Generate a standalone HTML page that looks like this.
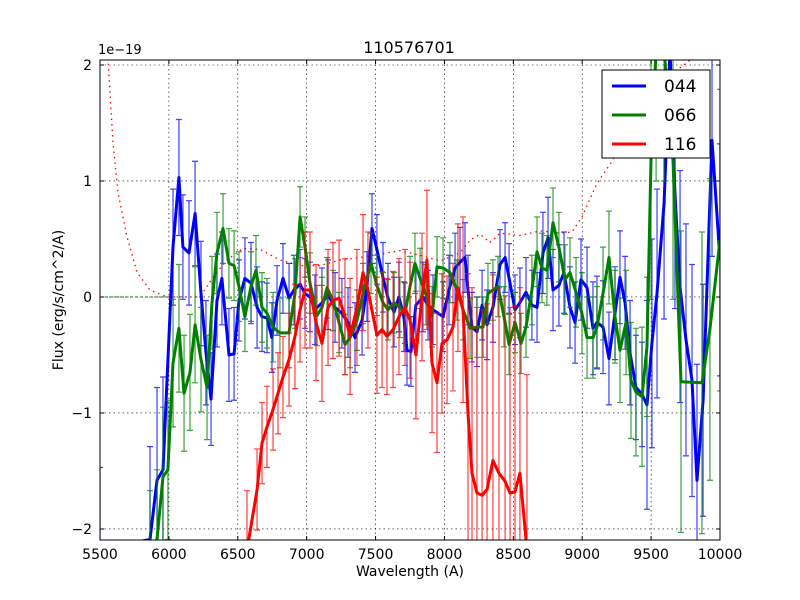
<!DOCTYPE html>
<html><head><meta charset="utf-8"><style>
html,body{margin:0;padding:0;width:800px;height:600px;overflow:hidden;background:#fff}
svg{display:block;font-family:"DejaVu Sans","Liberation Sans",sans-serif}
</style></head><body>
<svg id="chart" width="800" height="600" viewBox="0 0 800 600">
<rect x="0" y="0" width="800" height="600" fill="#fff"/>
<defs><clipPath id="clip"><rect x="100" y="60" width="620" height="480"/></clipPath></defs>
<g id="grid"></g>
<g id="plot" clip-path="url(#clip)"></g>
<rect x="100" y="60" width="620" height="480" fill="none" stroke="#000" stroke-width="1"/>
<g id="ticks"></g>
<text x="409" y="53" font-size="16" text-anchor="middle">110576701</text>
<text x="98" y="54" font-size="13">1e−19</text>
<text x="410" y="576" font-size="14" text-anchor="middle">Wavelength (A)</text>
<text x="63" y="300" font-size="14" text-anchor="middle" transform="rotate(-90 63 300)">Flux (erg/s/cm^2/A)</text>
<g>
<rect x="602" y="70" width="108" height="88" fill="#fff" stroke="#000"/>
<line x1="612" y1="86" x2="646" y2="86" stroke="#0000ff" stroke-width="3"/>
<text x="664" y="92" font-size="17">044</text>
<line x1="612" y1="115" x2="646" y2="115" stroke="#008000" stroke-width="3"/>
<text x="664" y="121" font-size="17">066</text>
<line x1="612" y1="144" x2="646" y2="144" stroke="#ff0000" stroke-width="3"/>
<text x="664" y="150" font-size="17">116</text>
</g>
</svg>
<script>
const xTicks=[5500,6000,6500,7000,7500,8000,8500,9000,9500,10000];
const yTicks=[-2,-1,0,1,2];
const yTickLabels=["−2","−1","0","1","2"];

const wlA=[5500,5863,5914,5957,6030,6073,6102,6146,6190,6233,6269,6306,6349,6385,6436,6473,6509,6552,6596,6640,6676,6712,6748,6785,6828,6872,6908,6952,6988,7024,7060,7111,7155,7206,7256,7300,7351,7402,7438,7474,7510,7554,7590,7634,7670,7706,7728,7757,7793,7844,7881,7917,7990,8033,8077,8113,8149,8171,8200,8236,8273,8309,8352,8403,8440,8469,8512,8548,8592,8635,8672,8715,8752,8788,8831,8868,8911,8948,8991,9035,9078,9107,9151,9194,9238,9274,9311,9347,9390,9434,9470,9506,9543,9594,9637,9673,9710,9753,9797,9833,9877,9942,10000];
const fluxA=[-2.27,-2.09,-1.58,-1.49,0.43,1.03,0.43,0.38,0.72,0.03,-0.48,-0.88,-0.03,0.16,-0.5,-0.49,-0.03,0.16,0.12,-0.09,-0.17,-0.18,-0.35,-0.03,0.16,-0.01,0.06,0.11,0.03,0,-0.11,-0.05,0.02,-0.09,-0.14,-0.22,-0.35,-0.2,0.09,0.59,0.41,0.17,-0.01,-0.13,0,-0.17,-0.46,-0.47,-0.07,0,-0.07,-0.11,-0.17,0.06,0.25,0.3,0.34,0.06,-0.26,-0.3,-0.07,-0.24,-0.09,0.28,0.34,0.16,-0.11,-0.05,0.04,-0.07,-0.09,0.38,0.51,0.06,0.1,0.21,-0.09,-0.22,0.15,0.08,-0.27,-0.22,-0.26,-0.53,-0.14,0.17,-0.05,-0.48,-0.78,-0.84,-0.93,-0.4,0.03,0.81,2.2,0.9,0.09,-0.37,-0.72,-1.58,-0.89,1.35,0.32];
const errA=[0.8,0.8,0.8,0.8,0.5,0.5,0.45,0.45,0.45,0.45,0.45,0.4,0.4,0.4,0.4,0.4,0.35,0.35,0.35,0.35,0.3,0.3,0.3,0.3,0.3,0.3,0.3,0.3,0.3,0.3,0.3,0.3,0.3,0.3,0.3,0.3,0.3,0.3,0.3,0.3,0.3,0.3,0.3,0.3,0.3,0.3,0.3,0.3,0.3,0.3,0.3,0.3,0.3,0.3,0.3,0.3,0.3,0.3,0.3,0.3,0.3,0.3,0.3,0.3,0.3,0.3,0.3,0.3,0.3,0.3,0.3,0.35,0.35,0.35,0.35,0.35,0.35,0.35,0.35,0.35,0.4,0.4,0.4,0.4,0.4,0.4,0.4,0.45,0.45,0.45,0.9,0.9,0.9,1.0,1.0,1.0,1.0,1.0,1.0,1.0,1.0,1.0,1.0];

const wlB=[5863,5914,5957,5993,6030,6073,6110,6153,6190,6233,6277,6313,6349,6393,6436,6473,6509,6552,6596,6632,6676,6712,6756,6806,6872,6915,6952,6988,7024,7075,7111,7148,7191,7235,7278,7315,7365,7409,7467,7510,7554,7590,7634,7677,7714,7750,7786,7823,7866,7910,7946,7990,8040,8091,8135,8186,8236,8280,8316,8352,8389,8432,8469,8512,8556,8592,8635,8672,8708,8744,8788,8831,8875,8911,8955,8998,9035,9078,9107,9151,9194,9238,9274,9318,9354,9390,9434,9470,9499,9536,9594,9659,9717,9869,9927,10000];
const fluxB=[-2.27,-2.09,-1.55,-1.49,-0.57,-0.27,-0.83,-0.65,-0.24,-0.54,-0.78,-0.05,0.38,0.59,0.29,0.27,0.09,-0.17,0.09,0.23,-0.09,-0.14,-0.26,-0.31,-0.31,0.03,0.69,0.43,0.12,-0.16,-0.09,0.08,-0.03,-0.22,-0.41,-0.35,-0.2,0.03,0.29,0.1,-0.05,-0.11,-0.05,-0.09,-0.14,0.09,0.29,0.16,0.02,-0.17,0.26,0.25,0.21,0.06,-0.11,-0.27,-0.26,-0.26,0.03,0.06,0.09,-0.17,-0.41,-0.22,-0.4,-0.26,0.06,0.39,0.25,0.23,0.64,0.43,0.15,0.21,0.04,-0.14,-0.35,-0.35,-0.26,0.03,0.34,-0.17,-0.46,-0.22,-0.72,-0.82,-0.86,-0.43,1.18,2.2,2.2,1.18,-0.73,-0.74,-0.28,0.49];
const errB=[0.6,0.6,0.6,0.6,0.55,0.55,0.5,0.5,0.5,0.45,0.45,0.4,0.35,0.3,0.3,0.3,0.3,0.3,0.3,0.3,0.3,0.3,0.3,0.3,0.3,0.3,0.26,0.26,0.26,0.26,0.26,0.26,0.26,0.26,0.26,0.26,0.26,0.26,0.26,0.26,0.26,0.26,0.26,0.26,0.26,0.26,0.26,0.26,0.26,0.26,0.26,0.26,0.26,0.26,0.26,0.26,0.26,0.26,0.26,0.26,0.26,0.26,0.26,0.26,0.26,0.26,0.3,0.3,0.3,0.3,0.3,0.3,0.3,0.3,0.3,0.35,0.35,0.35,0.35,0.4,0.4,0.4,0.45,0.45,0.5,0.55,0.6,0.6,1.2,1.2,1.2,1.2,1.3,1.3,1.3,1.3];

const wlC=[6567,6640,6676,6712,6756,6792,6828,6872,6915,6952,6988,7024,7068,7111,7155,7191,7235,7278,7315,7365,7409,7445,7510,7547,7583,7627,7670,7714,7750,7793,7837,7873,7910,7946,7982,8019,8062,8098,8135,8171,8200,8236,8273,8309,8352,8396,8440,8476,8512,8548,8599];
const fluxC=[-2.27,-1.66,-1.26,-1.12,-0.97,-0.83,-0.69,-0.54,-0.34,-0.11,0.06,0.06,-0.22,-0.4,-0.09,-0.03,-0.01,-0.17,-0.34,-0.09,0.21,0.06,-0.33,-0.28,-0.34,-0.28,-0.17,-0.09,-0.2,-0.5,0,0.32,-0.57,-0.74,-0.4,-0.37,-0.26,0.08,-0.11,-1.0,-1.52,-1.69,-1.71,-1.66,-1.41,-1.52,-1.59,-1.69,-1.68,-1.52,-2.27];
const errC=[0.6,0.35,0.35,0.35,0.35,0.35,0.35,0.4,0.45,0.45,0.5,0.5,0.5,0.5,0.5,0.5,0.5,0.5,0.5,0.5,0.5,0.5,0.5,0.5,0.5,0.5,0.5,0.5,0.5,0.55,0.55,0.6,0.6,0.6,0.6,0.55,0.55,0.55,0.8,1.2,1.6,1.6,1.6,1.6,1.6,1.6,1.6,1.6,1.6,1.6,1.6];

const wlSky=[5544,5558,5594,5631,5696,5769,5863,5986,6226,6320,6422,6538,6661,6806,6952,7097,7242,7387,7532,7677,7823,7968,8113,8186,8258,8331,8403,8548,8694,8839,8926,8998,9107,9223,9311,9492,9782,9855];
const fluxSky=[2.2,2.04,1.33,0.9,0.52,0.21,0.06,0,0,0.17,0.32,0.42,0.41,0.32,0.27,0.27,0.32,0.34,0.37,0.4,0.36,0.31,0.38,0.49,0.54,0.47,0.55,0.53,0.57,0.55,0.56,0.69,0.98,1.18,1.44,1.78,2.04,2.2];

const X0=5500,X1=10000,PL=100,PR=720;
const Y0=-2.095,Y1=2.043,PT=60,PB=540;
function sx(w){return PL+(w-X0)*(PR-PL)/(X1-X0);}
function sy(f){return PB-(f-Y0)*(PB-PT)/(Y1-Y0);}
function cy(y){return Math.max(PT-10,Math.min(PB+10,y));}
const NS="http://www.w3.org/2000/svg";
function mk(tag,attrs,parent){const e=document.createElementNS(NS,tag);for(const k in attrs)e.setAttribute(k,attrs[k]);parent.appendChild(e);return e;}

const grid=document.getElementById('grid'),plot=document.getElementById('plot'),ticks=document.getElementById('ticks');
xTicks.forEach((t,i)=>{
  const x=sx(t);
  const g=mk('line',{x1:x,y1:PT,x2:x,y2:PB,stroke:'#000','stroke-width':0.6,'stroke-dasharray':'1.5,3'},grid);
  
  
  const a=mk('line',{x1:x,y1:PB,x2:x,y2:PB-4,stroke:'#000'},ticks);
  
  
  const b=mk('line',{x1:x,y1:PT,x2:x,y2:PT+4,stroke:'#000'},ticks);
  
  
  const tx=mk('text',{x:x,y:PB+19,'font-size':14,'text-anchor':'middle'},ticks);
  tx.textContent=String(t);
  
  
});
yTicks.forEach((t,i)=>{
  const y=sy(t);
  const g=mk('line',{x1:PL,y1:y,x2:PR,y2:y,stroke:'#000','stroke-width':0.6,'stroke-dasharray':'1.5,3'},grid);
  
  
  const a=mk('line',{x1:PL,y1:y,x2:PL+4,y2:y,stroke:'#000'},ticks);
  
  
  const b=mk('line',{x1:PR,y1:y,x2:PR-4,y2:y,stroke:'#000'},ticks);
  
  
  const tx=mk('text',{x:PL-8,y:y+5,'font-size':14,'text-anchor':'end'},ticks);
  tx.textContent=yTickLabels[i];
  
  
});

const z=mk('line',{x1:sx(5500),y1:sy(0),x2:sx(6000),y2:sy(0),stroke:'#008000','stroke-width':1,'stroke-dasharray':'3,2'},plot);



const skyPts=wlSky.map((w,i)=>sx(w).toFixed(1)+','+sy(fluxSky[i]).toFixed(1)).join(' ');
const sky=mk('polyline',{points:skyPts,fill:'none',stroke:'#ff0000','stroke-width':1.3,'stroke-dasharray':'1.5,4'},plot);



function series(wl,fl,er,color,name){
  const g=mk('g',{},plot);
  
  
  wl.forEach((w,i)=>{
    const x=sx(w),ya=cy(sy(fl[i]+er[i])),yb=cy(sy(fl[i]-er[i]));
    const eb=mk('path',{d:`M${x},${ya}V${yb}M${x-3},${ya}H${x+3}M${x-3},${yb}H${x+3}`,stroke:color,'stroke-width':1.2,'stroke-opacity':0.75,fill:'none'},g);
    
    
  });
  const pts=wl.map((w,i)=>sx(w).toFixed(1)+','+cy(sy(fl[i])).toFixed(1)).join(' ');
  const l=mk('polyline',{points:pts,fill:'none',stroke:color,'stroke-width':3,'stroke-linejoin':'round'},g);
  
  
}
series(wlA,fluxA,errA,'#0000ff','044');
series(wlB,fluxB,errB,'#008000','066');
series(wlC,fluxC,errC,'#ff0000','116');
</script>
</body></html>
